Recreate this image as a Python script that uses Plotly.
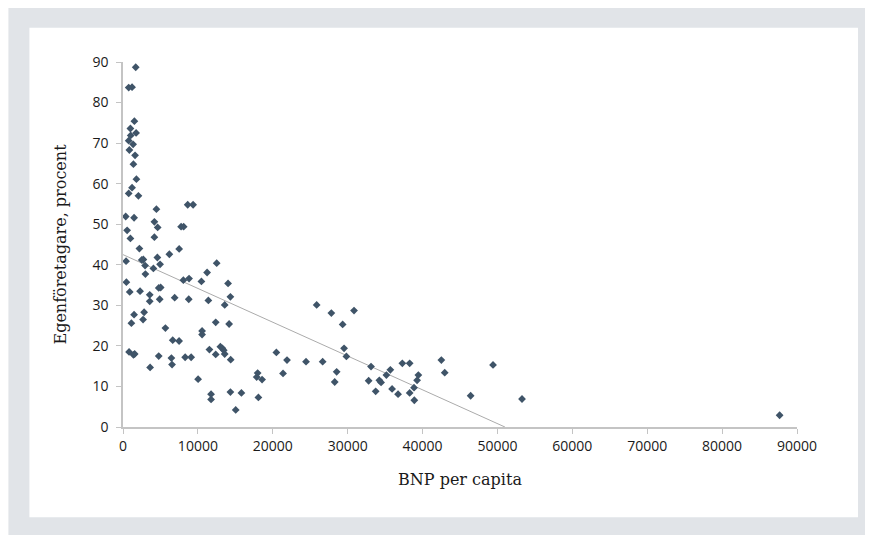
import plotly.graph_objects as go

# GDP per capita (BNP per capita) and share self-employed (Egenföretagare, procent)
gdp = [
    1700, 760, 1210, 1520, 990, 1750, 1030, 760, 1350, 850, 1610, 1390, 1790, 1210, 760, 2060,
    4460, 360, 1480, 4190, 4630, 7760, 8100, 550, 990, 4190,
    8640, 9360, 7500,
    2190, 6190, 410, 2500, 2720, 4590, 2950, 4950, 12510, 4060,
    2990, 450, 8060, 900, 2280, 3570, 3570, 4770, 5030, 4900, 6900, 1480, 2820, 1120, 2680,
    5660, 6640, 7490, 810, 1390, 1560, 4770, 6460, 8300, 9100, 6550, 3620,
    11230, 8820, 10470, 14030, 8780, 11400, 14340, 13580, 12380, 14170, 10560, 10560, 11540,
    12380, 13000, 13270, 13450, 13580, 14380, 10030, 11760, 11760, 14340, 15810, 15050,
    17980, 17850, 18570, 18080,
    20480, 21370, 21900, 24440, 26660, 25860, 27820, 30850, 29330, 29520, 29830, 28530, 28270,
    33120, 32800, 33740, 34230, 34460, 35170, 35700, 35930, 36730, 37300, 38280, 38280, 38860,
    38900, 39270, 39440,
    42510, 42960, 46420, 49410, 53280, 87680,
]
self_employed = [
    88.7, 83.7, 83.8, 75.4, 73.6, 72.5, 71.9, 70.6, 69.7, 68.3, 67.0, 64.8, 61.1, 59.0, 57.6, 57.0,
    53.7, 51.9, 51.6, 50.6, 49.2, 49.4, 49.4, 48.5, 46.5, 46.8,
    54.8, 54.8, 43.9,
    44.0, 42.6, 40.9, 41.2, 41.3, 41.8, 39.8, 40.1, 40.4, 39.1,
    37.7, 35.7, 36.2, 33.3, 33.5, 32.6, 31.0, 34.3, 34.4, 31.5, 31.9, 27.7, 28.3, 25.6, 26.5,
    24.4, 21.4, 21.2, 18.5, 17.8, 18.0, 17.5, 17.0, 17.2, 17.2, 15.4, 14.7,
    38.1, 36.6, 35.9, 35.4, 31.5, 31.2, 32.1, 30.1, 25.8, 25.4, 23.7, 22.8, 19.1,
    17.9, 19.8, 19.4, 18.9, 18.0, 16.6, 11.8, 8.1, 6.8, 8.6, 8.4, 4.2,
    13.3, 12.3, 11.7, 7.3,
    18.4, 13.2, 16.5, 16.1, 16.1, 30.1, 28.1, 28.7, 25.3, 19.4, 17.4, 13.6, 11.1,
    14.9, 11.4, 8.8, 11.5, 11.0, 12.8, 14.1, 9.4, 8.1, 15.7, 15.7, 8.4,
    9.7, 6.6, 11.5, 12.8,
    16.5, 13.4, 7.7, 15.3, 6.9, 2.9,
]

# Linear trend line end points
trend_x = [0, 51000]
trend_y = [42.5, 0]

x_ticks = [0, 10000, 20000, 30000, 40000, 50000, 60000, 70000, 80000, 90000]
y_ticks = [0, 10, 20, 30, 40, 50, 60, 70, 80, 90]

# The page body adds an 8px offset; the figure is sized to fill the rest of the window.
OFF = 8
W, H = 873 - OFF, 535 - OFF
ML, MR, MT, MB = 122.6 - OFF, 76.3, 62.3 - OFF, 108.3
pw, ph = W - ML - MR, H - MT - MB


def px_x(p):
    return (p - OFF - ML) / pw


def px_y(p):
    return (H - MB - (p - OFF)) / ph


fig = go.Figure()
fig.add_trace(go.Scatter(
    x=trend_x, y=trend_y, mode="lines",
    line=dict(color="#ababab", width=1), hoverinfo="skip", showlegend=False,
))
fig.add_trace(go.Scatter(
    x=gdp, y=self_employed, mode="markers",
    marker=dict(symbol="diamond", size=6, color="#3f5468"),
    cliponaxis=False, showlegend=False,
))

fig.add_shape(type="rect", xref="paper", yref="paper", layer="below",
              x0=px_x(OFF), x1=px_x(873), y0=px_y(535), y1=px_y(OFF),
              fillcolor="#e1e4e8", line=dict(width=0))
fig.add_shape(type="rect", xref="paper", yref="paper", layer="below",
              x0=px_x(29), x1=px_x(857.7), y0=px_y(516.7), y1=px_y(28),
              fillcolor="#ffffff", line=dict(width=0))

axis_common = dict(
    showgrid=False, zeroline=False, showline=True,
    linecolor="#c4c4c4", linewidth=1.5,
    ticks="outside", tickcolor="#c4c4c4", tickwidth=1, ticklen=5,
    tickfont=dict(family="Open Sans", size=14, color="#1a1a1a"),
)

fig.update_xaxes(
    range=[0, 90000], tickvals=x_ticks, ticktext=[str(v) for v in x_ticks],
    title=dict(text="BNP per capita", font=dict(family="DejaVu Serif", size=16, color="#1a1a1a"),
               standoff=20),
    **axis_common,
)
fig.update_yaxes(
    range=[0, 90], tickvals=y_ticks, ticktext=[str(v) for v in y_ticks],
    title=dict(text="Egenföretagare, procent", font=dict(family="DejaVu Serif", size=16, color="#1a1a1a"),
               standoff=22),
    ticklabelstandoff=5,
    **axis_common,
)

fig.update_layout(
    width=W, height=H, autosize=False,
    margin=dict(l=ML, r=MR, t=MT, b=MB, autoexpand=False),
    paper_bgcolor="#ffffff", plot_bgcolor="rgba(0,0,0,0)",
    showlegend=False,
)

fig.write_html("out.html")
